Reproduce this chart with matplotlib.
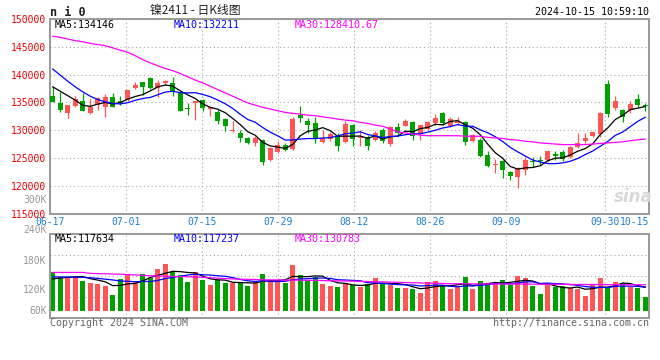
import matplotlib
matplotlib.use("Agg")
import matplotlib.pyplot as plt

# date labels and the candle index each one belongs to
date_labels = ["06-17", "07-01", "07-15", "07-29", "08-12", "08-26", "09-09", "09-30", "10-15"]
date_idx = [0, 10, 20, 30, 40, 50, 60, 73, 79]

opens = [136190, 134900, 133000, 134350, 135180, 133040, 134500, 134200, 135900, 135300,
         135500, 137600, 138600, 139300, 137600, 138500, 138400, 136700, 134000, 134850,
         135500, 133750, 133250, 132000, 129800, 129480, 128600, 127700, 128300, 124550,
         126100, 127300, 126600, 132700, 131600, 131340, 127850, 128400, 128900, 127800,
         131000, 128600, 128700, 128300, 130100, 127500, 130500, 130800, 131500, 129300,
         130200, 131250, 133000, 130700, 131200, 131500, 128000, 128300, 125600, 123700,
         124400, 122400, 121600, 122900, 124500, 124650, 124550, 125650, 126100, 125100,
         126950, 128050, 129000, 129350, 138250, 134050, 133700, 133550, 135650, 134550]
highs = [137800, 136800, 134600, 136130, 136730, 135540, 136000, 136500, 136600, 136100,
         137300, 138600, 138700, 139600, 139000, 139100, 139500, 136700, 134800, 135300,
         135600, 134200, 133600, 132100, 131600, 130000, 128800, 129000, 128400, 126900,
         128000, 127600, 132400, 134300, 132200, 132400, 130000, 129600, 129400, 131700,
         131100, 130000, 129100, 129900, 130300, 130700, 131200, 132000, 131700, 131000,
         131700, 132900, 133200, 132300, 132300, 131700, 129300, 128500, 126200, 124800,
         124600, 122600, 123300, 125200, 125100, 125300, 126400, 126300, 126400, 127100,
         129400, 129400, 129800, 133300, 138950, 136100, 133800, 135300, 136500, 134900]
lows = [135000, 133300, 132200, 134230, 133400, 132900, 133600, 132400, 134200, 134500,
        135200, 137400, 136400, 137400, 135900, 138200, 136200, 133400, 132700, 131900,
        133500, 132600, 131100, 129800, 129700, 127900, 127500, 127200, 123800, 124500,
        125900, 126300, 126400, 131500, 129400, 127700, 127700, 128000, 126300, 127600,
        127200, 127100, 126400, 128100, 127600, 127100, 129200, 130700, 128200, 128150,
        130000, 130900, 130900, 130600, 130950, 127400, 127900, 125100, 123400, 122200,
        121300, 121000, 119500, 121900, 123350, 123500, 124200, 124700, 124400, 124900,
        126800, 127700, 128800, 128700, 132450, 133600, 131400, 133000, 134100, 133500]
closes = [135060, 133700, 134500, 135600, 133510, 134110, 135700, 136000, 134200, 134800,
          137200, 138100, 137700, 137500, 138400, 138900, 137100, 133500, 133800, 135200,
          134000, 134100, 131700, 130700, 130000, 128500, 127700, 128500, 124300, 126840,
          127400, 126500, 132000, 132200, 130900, 128500, 128650, 129300, 127100, 131100,
          128400, 128800, 127200, 129500, 128000, 130500, 129400, 131700, 128900, 130900,
          131550, 132200, 131200, 132000, 131600, 127800, 129100, 125400, 123500, 123900,
          122800, 121700, 123100, 124550, 124250, 124400, 126200, 125350, 124800, 126900,
          127750, 128650, 129600, 133100, 132900, 135300, 132440, 134700, 134450, 134350]
volumes = [193, 171, 168, 175, 152, 141, 135, 125, 79, 158,
           179, 146, 187, 167, 208, 235, 195, 179, 146, 195,
           154, 129, 154, 138, 141, 146, 125, 146, 185, 154,
           152, 141, 232, 179, 154, 171, 135, 125, 118, 140,
           132, 121, 135, 163, 140, 129, 113, 113, 108, 91,
           146, 151, 130, 109, 119, 169, 109, 150, 138, 144,
           154, 129, 175, 165, 125, 84, 129, 121, 125, 113,
           108, 74, 135, 163, 113, 146, 141, 121, 113, 71]
volumes = [v * 1000 for v in volumes]

# averages before enough days are on the chart
ma5_head = [137800, 137000, 136200, 135400]
ma10_head = [141000, 139900, 138800, 137800, 136900, 136100, 135500, 135100, 134800]
ma30 = [146900, 146700, 146400, 146100, 145900, 145600, 145400, 145200, 144800, 144400,
        144000, 143400, 142700, 142100, 141600, 141100, 140700, 140200, 139600, 139000,
        138500, 137900, 137300, 136700, 136100, 135500, 134900, 134500, 134100, 133800,
        133500, 133200, 133000, 132900, 132700, 132600, 132400, 132200, 132000, 131800,
        131700, 131400, 131200, 130900, 130700, 130200, 129700, 129500, 129300, 129100,
        129000, 129000, 129000, 129000, 129000, 128900, 128900, 128900, 128700, 128600,
        128500, 128300, 128200, 128000, 127900, 127700, 127600, 127500, 127400, 127400,
        127400, 127400, 127500, 127600, 127700, 127800, 127900, 128100, 128250, 128400]
vol_ma5_head = [160000, 165000, 168000, 170000]
vol_ma10_head = [171000, 170000, 170000, 169000, 168000, 166000, 163000, 159000, 155000]
vol_ma30 = [193, 193, 193, 193, 193, 188, 187, 186, 185, 184,
            182, 180, 178, 176, 175, 174, 173, 172, 171, 170,
            168, 166, 164, 162, 160, 159, 158, 157, 156, 155,
            155, 154, 154, 154, 153, 153, 152, 151, 150, 150,
            149, 148, 147, 146, 145, 144, 143, 142, 141, 140,
            139, 138, 137, 136, 136, 136, 135, 135, 135, 135,
            135, 134, 134, 134, 134, 133, 133, 133, 133, 132,
            132, 132, 132, 132, 131, 131, 131, 131, 131, 130.8]
vol_ma30 = [v * 1000 for v in vol_ma30]


def moving_avg(vals, n, head):
    out = list(head)
    for i in range(n - 1, len(vals)):
        out.append(sum(vals[i - n + 1:i + 1]) / n)
    return out


UP = "#ff5555"
DOWN = "#00a000"
GRID = "#aaaaaa"
FRAME = "#999999"
MONO = "DejaVu Sans Mono"
W, H = 660, 360
BODY = 0.73

fig = plt.figure(figsize=(W / 100, H / 100), dpi=100)


def px_axes(x0, y0, x1, y1):
    return fig.add_axes([x0 / W, 1 - y1 / H, (x1 - x0) / W, (y1 - y0) / H])


def ftext(x, y, s, **kw):
    kw.setdefault("family", MONO)
    kw.setdefault("fontsize", 7.2)
    fig.text(x / W, 1 - y / H, s, **kw)


ax = px_axes(50, 19, 649, 213.5)
axv = px_axes(50, 234.3, 649, 318.3)
xmax = 599 / 7.5
xs = list(range(len(closes)))
mid = [i + BODY / 2 for i in xs]
colors = [UP if c >= o else DOWN for o, c in zip(opens, closes)]
grid_x = [i * 7.6 / 7.5 for i in date_idx[:-1]]

for a in (ax, axv):
    a.set_xlim(0, xmax)
    for s in a.spines.values():
        s.set_color(FRAME)
        s.set_linewidth(1.4)
    a.tick_params(length=0)
    a.set_yticks([])
    a.set_xticks([])
    for gx in grid_x[1:]:
        a.axvline(gx, color=GRID, lw=0.8, ls=(0, (1, 2.5)), zorder=0)

# price panel
for lvl in range(120000, 150000, 5000):
    ax.axhline(lvl, color=GRID, lw=0.8, ls=(0, (1, 2.5)), zorder=0)
bottoms = [min(o, c) for o, c in zip(opens, closes)]
heights = [max(abs(c - o), 180) for o, c in zip(opens, closes)]
ax.vlines(mid, lows, highs, colors=colors, lw=0.9, zorder=2)
ax.bar(xs, heights, bottom=bottoms, width=BODY, align="edge", color=colors, lw=0, zorder=3)
ax.plot(mid, moving_avg(closes, 5, ma5_head), color="black", lw=0.9, zorder=4)
ax.plot(mid, moving_avg(closes, 10, ma10_head), color="#0000ff", lw=0.9, zorder=4)
ax.plot(mid, ma30, color="#ff00ff", lw=0.9, zorder=4)
ax.set_ylim(115000, 150000)
ax.set_yticks(range(115000, 150001, 5000))
ax.set_yticklabels([str(v) for v in range(115000, 150001, 5000)], color="#ee0000",
                   family=MONO, fontsize=7.0)
for lbl in ax.get_yticklabels():
    lbl.set_va("center_baseline")
ax.tick_params(axis="y", pad=3)
ax.set_xticks(grid_x + [xmax])
ax.set_xticklabels(date_labels, color="#1a7fd8", family=MONO, fontsize=7.0)
ax.get_xticklabels()[-1].set_ha("right")
ax.tick_params(axis="x", pad=2.5)

# volume panel
for frac in (0.25, 0.5, 0.75):
    axv.axhline(-38300 + frac * 423300, color=GRID, lw=0.8, ls=(0, (1, 2.5)), zorder=0)
axv.bar(xs, volumes, width=BODY, align="edge", color=colors, lw=0, zorder=2)
axv.plot(mid, moving_avg(volumes, 5, vol_ma5_head), color="black", lw=0.9, zorder=3)
axv.plot(mid, moving_avg(volumes, 10, vol_ma10_head), color="#0000ff", lw=0.9, zorder=3)
axv.plot(mid, vol_ma30, color="#ff00ff", lw=0.9, zorder=3)
axv.set_ylim(-38300, 385000)

# header texts
ftext(50, 12, "n i 0", fontsize=8.5, weight="bold", va="center", color="#222222")
ftext(195, 10.5, "镍2411 - 日K线图", family=["Noto Sans CJK SC", "DejaVu Sans"],
      fontsize=8.5, ha="center", va="center", color="#222222")
ftext(649, 12, "2024-10-15 10:59:10", ha="right", va="center", color="black")

# legends
ftext(55, 24.5, "MA5:134146", va="center", color="black")
ftext(174, 24.5, "MA10:132211", va="center", color="#0000ff")
ftext(295, 24.5, "MA30:128410.67", va="center", color="#ff00ff")
ftext(55, 238.5, "MA5:117634", va="center", color="black")
ftext(174, 238.5, "MA10:117237", va="center", color="#0000ff")
ftext(295, 238.5, "MA30:130783", va="center", color="#ff00ff")

# volume scale labels
for txt, y in [("300K", 200), ("240K", 230), ("180K", 261.5), ("120K", 290), ("60K", 310.5)]:
    ftext(46.5, y, txt, ha="right", va="center", color="#999999", fontsize=7.0)

ftext(50, 323.5, "Copyright 2024 SINA.COM", va="center", color="#666666")
ftext(649, 323.5, "http://finance.sina.com.cn", ha="right", va="center", color="#666666")
ftext(633, 197, "sina", family="DejaVu Sans", fontsize=12, weight="bold", style="italic",
      ha="center", va="center", color="#d8d8d8")

fig.savefig("out.png", dpi=100)
